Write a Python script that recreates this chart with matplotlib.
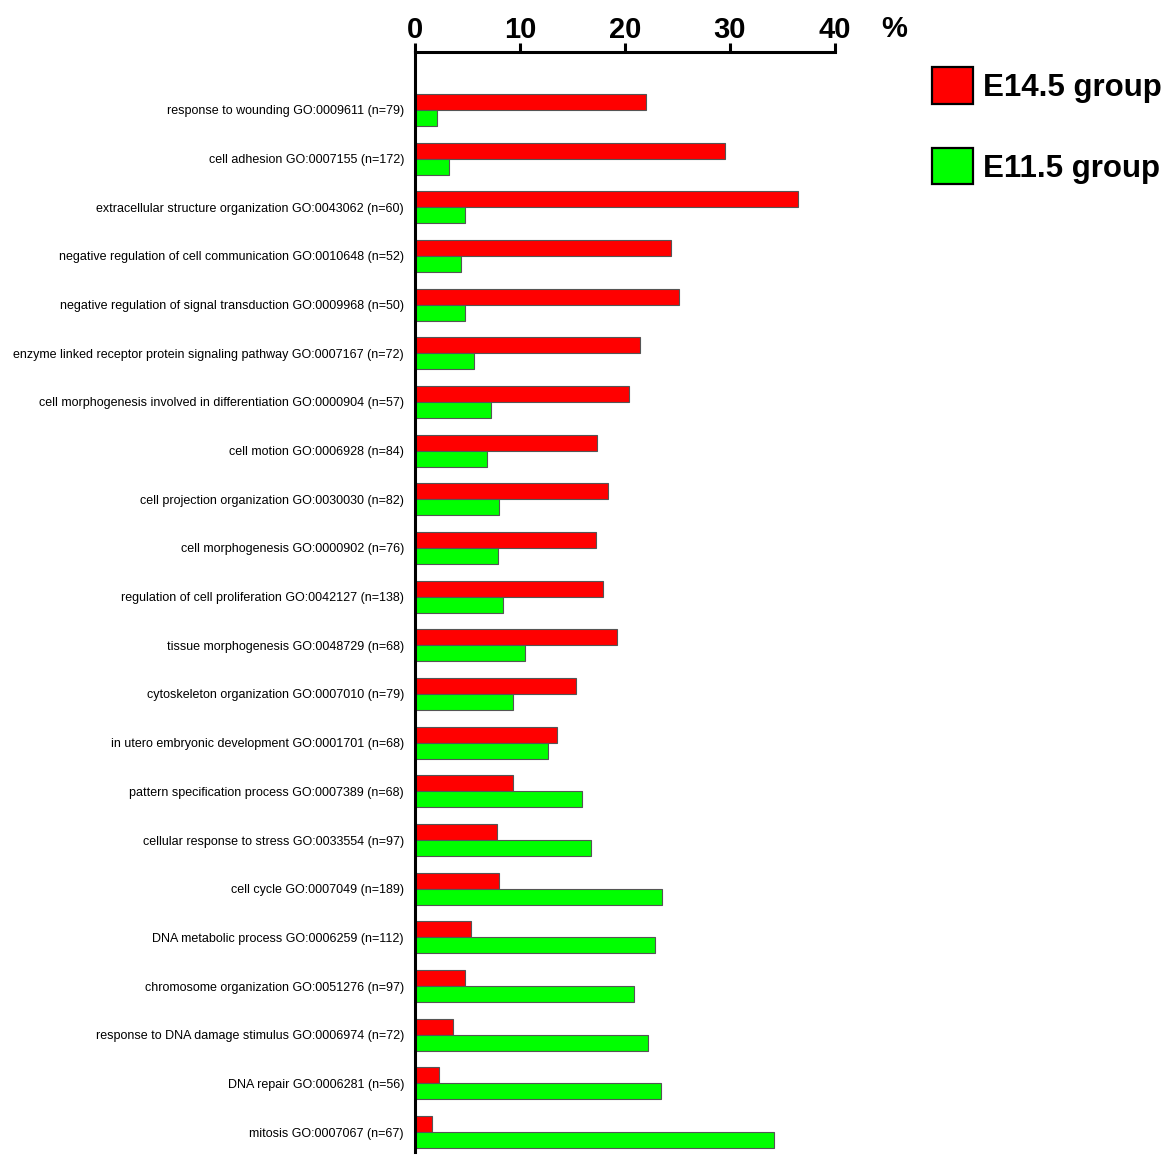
import matplotlib
matplotlib.use("Agg")
import matplotlib.pyplot as plt
from matplotlib.patches import Patch
import numpy as np

plt.rcParams['font.family'] = ['Liberation Sans', 'DejaVu Sans']

categories = [
    "response to wounding GO:0009611 (n=79)",
    "cell adhesion GO:0007155 (n=172)",
    "extracellular structure organization GO:0043062 (n=60)",
    "negative regulation of cell communication GO:0010648 (n=52)",
    "negative regulation of signal transduction GO:0009968 (n=50)",
    "enzyme linked receptor protein signaling pathway GO:0007167 (n=72)",
    "cell morphogenesis involved in differentiation GO:0000904 (n=57)",
    "cell motion GO:0006928 (n=84)",
    "cell projection organization GO:0030030 (n=82)",
    "cell morphogenesis GO:0000902 (n=76)",
    "regulation of cell proliferation GO:0042127 (n=138)",
    "tissue morphogenesis GO:0048729 (n=68)",
    "cytoskeleton organization GO:0007010 (n=79)",
    "in utero embryonic development GO:0001701 (n=68)",
    "pattern specification process GO:0007389 (n=68)",
    "cellular response to stress GO:0033554 (n=97)",
    "cell cycle GO:0007049 (n=189)",
    "DNA metabolic process GO:0006259 (n=112)",
    "chromosome organization GO:0051276 (n=97)",
    "response to DNA damage stimulus GO:0006974 (n=72)",
    "DNA repair GO:0006281 (n=56)",
    "mitosis GO:0007067 (n=67)",
]

e145 = [22.0, 29.5, 36.5, 24.4, 25.1, 21.4, 20.4, 17.3, 18.4, 17.2, 17.9,
        19.2, 15.3, 13.5, 9.3, 7.8, 8.0, 5.3, 4.8, 3.6, 2.3, 1.6]
e115 = [2.1, 3.2, 4.8, 4.4, 4.8, 5.6, 7.2, 6.9, 8.0, 7.9, 8.35,
        10.5, 9.3, 12.7, 15.9, 16.8, 23.5, 22.9, 20.9, 22.2, 23.4, 34.2]

xticks = [0, 10, 20, 30, 40]
series_names = ["E14.5 group", "E11.5 group"]
colors = ["#ff0000", "#00ff00"]

W, H = 1176, 1162
fig = plt.figure(figsize=(W / 100, H / 100), dpi=100)
ax = fig.add_axes([415 / W, 1 - 1152 / H, (835 - 415) / W, (1152 - 52) / H])

y = np.arange(len(categories))
bh = 0.33
ax.barh(y - bh / 2, e145, height=bh, color=colors[0], edgecolor="#555555", linewidth=0.8)
ax.barh(y + bh / 2, e115, height=bh, color=colors[1], edgecolor="#555555", linewidth=0.8)

ax.set_xlim(0, 40)
ax.set_ylim(len(categories) - 1 + 0.41, -1.19)

ax.xaxis.tick_top()
ax.set_xticks(xticks)
ax.set_xticklabels([str(t) for t in xticks], fontsize=21, fontweight="bold")
ax.tick_params(axis="x", direction="out", length=6.5, width=2.2, pad=-1)

ax.set_yticks(y)
ax.set_yticklabels(categories, fontsize=9)
ax.tick_params(axis="y", length=0, pad=8)

for s in ["right", "bottom"]:
    ax.spines[s].set_visible(False)
for s in ["left", "top"]:
    ax.spines[s].set_linewidth(2.2)

fig.text(894 / W, 1 - 29 / H, "%", fontsize=21, fontweight="bold",
         ha="center", va="center")

handles = [Patch(facecolor=c, edgecolor="black", linewidth=1.6) for c in colors]
fig.legend(handles, series_names, loc="upper left",
           bbox_to_anchor=(932 / W, 1 - 67 / H), bbox_transform=fig.transFigure,
           frameon=False, borderpad=0, borderaxespad=0,
           handlelength=1.32, handleheight=1.42, handletextpad=0.32,
           labelspacing=1.42, prop={"size": 22.5, "weight": "bold"})

fig.savefig("out.png", dpi=100)
